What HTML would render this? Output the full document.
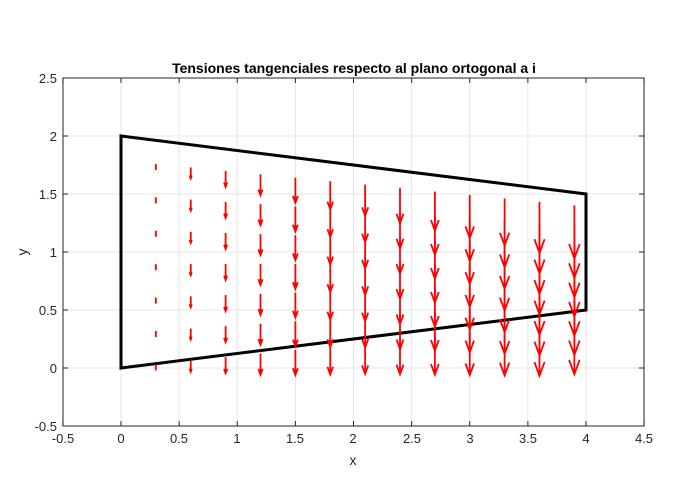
<!DOCTYPE html>
<html><head><meta charset="utf-8"><style>
body{margin:0;background:#fff;}
svg{display:block;font-family:"Liberation Sans",sans-serif;}
</style></head><body>
<svg id="s" width="700" height="498" viewBox="0 0 700 498">
<rect width="700" height="498" fill="#fff"/>
<g id="grid" stroke="#e6e6e6" stroke-width="1"></g>
<rect x="63" y="78" width="581" height="348" fill="none" stroke="#262626" stroke-width="1"/>
<g id="ticks" stroke="#262626" stroke-width="1"></g>
<polygon points="121,368 586,310 586,194 121,136" fill="none" stroke="#000" stroke-width="3" stroke-linejoin="miter"/>
<g id="arr" stroke="#ff0000" stroke-width="1.8" fill="none" stroke-linecap="butt"></g>
<g font-size="13" fill="#262626" text-anchor="middle">
<text x="63" y="443">-0.5</text><text x="121" y="443">0</text><text x="179" y="443">0.5</text><text x="237" y="443">1</text><text x="295" y="443">1.5</text><text x="353" y="443">2</text><text x="412" y="443">2.5</text><text x="470" y="443">3</text><text x="528" y="443">3.5</text><text x="586" y="443">4</text><text x="644" y="443">4.5</text>
</g>
<g font-size="13" fill="#262626" text-anchor="end">
<text x="57" y="431">-0.5</text><text x="57" y="373">0</text><text x="57" y="315">0.5</text><text x="57" y="257">1</text><text x="57" y="199">1.5</text><text x="57" y="141">2</text><text x="57" y="83">2.5</text>
</g>
<text x="353" y="465" font-size="14" fill="#262626" text-anchor="middle">x</text>
<text x="27" y="252" font-size="14" fill="#262626" text-anchor="middle" transform="rotate(-90 27 252)">y</text>
<text x="354" y="73" font-size="14" font-weight="bold" fill="#000" text-anchor="middle">Tensiones tangenciales respecto al plano ortogonal a i</text>
</svg>
<script>
(function(){
var NS="http://www.w3.org/2000/svg";
function el(p,t,a){var n=document.createElementNS(NS,t);for(var q in a)n.setAttribute(q,a[q]);document.getElementById(p).appendChild(n);}
function px(x){return 121+116.25*x;} function py(y){return 368-116*y;}
for(var i=0;i<11;i++){var X=px(-0.5+0.5*i);el("grid","line",{x1:X,y1:78,x2:X,y2:426});
 el("ticks","line",{x1:X,y1:426,x2:X,y2:421});el("ticks","line",{x1:X,y1:78,x2:X,y2:83});}
for(var j=0;j<7;j++){var Y=py(-0.5+0.5*j);el("grid","line",{x1:63,y1:Y,x2:644,y2:Y});
 el("ticks","line",{x1:63,y1:Y,x2:68,y2:Y});el("ticks","line",{x1:644,y1:Y,x2:639,y2:Y});}
var LL=[6,11,16,21,25,28,31,35,39,43,47,51,53];
for(var c=1;c<=13;c++){var x=c*0.3;var X=px(x);
 var tp=160.5+11.5*x, bt=368-12*x, len=LL[c-1];
 for(var k=0;k<7;k++){var t=tp+(bt-tp)*k/6, en=t+len;
  el("arr","line",{x1:X,y1:t,x2:X,y2:en});
  var hl=0.27*len, hw=0.1*len;
  if(len>8) el("arr","polyline",{points:(X-hw)+","+(en-hl)+" "+X+","+en+" "+(X+hw)+","+(en-hl)});}}
})();
</script>
</body></html>
